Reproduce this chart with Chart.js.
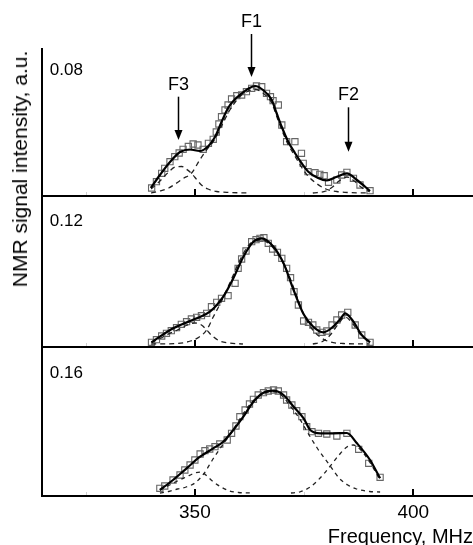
<!DOCTYPE html>
<html><head><meta charset="utf-8">
<script src="https://cdn.jsdelivr.net/npm/chart.js@4.4.1/dist/chart.umd.min.js"></script>
<style>
html,body{margin:0;padding:0;background:#fff;overflow:hidden;width:473px;height:545px;}
#wrap{position:relative;width:473px;height:545px;overflow:hidden;background:#fff;}
canvas{position:absolute;left:0;}
#ylab{position:absolute;left:20px;top:169px;transform:translate(-50%,-50%) rotate(-90deg);white-space:nowrap;font:21px "Liberation Sans",Arial,sans-serif;color:#000;}
</style></head><body>
<div id="wrap">
<canvas id="c1" width="473" height="200" style="top:0"></canvas>
<canvas id="c2" width="473" height="160" style="top:190px"></canvas>
<canvas id="c3" width="473" height="215" style="top:340px"></canvas>
<div id="ylab">NMR signal intensity, a.u.</div>
</div>
<script>
// ---------- axis / label data ----------
const xMin = 315, xMax = 413.67;
const xTickValues = [350, 400];
const xMinorTickValues = [325, 375];
const xTitle = 'Frequency, MHz';
const panelLabels = ['0.08', '0.12', '0.16'];
const peakNames = ['F1', 'F2', 'F3'];
const peakFreq = [362.75, 384.96, 346.2];

// ---------- panel 1 (0.08) ----------
const p1Squares = [[340.1,8],[341.2,14.3],[342.4,22.7],[343.1,27.7],[344.3,34.3],[345.4,39.3],[346.4,43],[347.3,46.7],[348.5,49.5],[349.6,52],[350.7,51],[351.9,46.7],[353.1,52.7],[354.2,56.7],[354.9,64],[355.5,72],[356.1,79.3],[356.9,86],[357.6,91],[358.4,97],[359.6,100.3],[360.7,101],[361.8,104.3],[363.0,107.7],[364.1,110],[365.3,109.3],[366.4,102.7],[367.3,99.3],[367.9,95.3],[369.1,91],[369.9,71],[371.0,54.3],[372.9,54.3],[374.4,42.7],[374.8,32.7],[375.9,24.3],[377.5,23.3],[378.6,21.7],[379.6,20.3],[380.6,13.7],[382.5,16],[383.6,21],[384.8,23.7],[386.3,17.7],[387.8,11],[390.1,5.3]];
const p1Fit = [[339.9,8],[342,21],[344.3,34],[346.6,44],[348.9,46.5],[351.1,45],[353,49.5],[354.6,59],[356.1,74],[357.6,88],[359,96],[360.7,102.5],[362.3,107.5],[363.8,110],[365.6,106],[367.6,96],[368.7,83],[369.9,69],[371.4,54],[372.9,43],[374.4,33],[375.9,24.5],[378.2,18],[380.2,15.5],[382.5,19.3],[384.8,22.7],[387.1,16],[390.1,5]];
const p1CompF1 = [[340,3],[342,5],[344,8],[345.5,12],[347.3,17.5],[349.2,22.7],[351.1,36],[352.5,45],[354.6,57],[356.1,70],[358,86],[360,98],[361.8,104],[363.8,106.5],[365.6,103],[367.6,93],[368.7,80],[369.9,66],[371.4,51],[372.9,40],[374.4,29],[375.9,20],[378,12],[380,7],[382.5,4.5],[385,3.5],[390,3]];
const p1CompF2 = [[377,3],[380,5],[381.5,9],[383,15],[384.8,19],[386.5,15],[388,9],[390,4]];
const p1CompF3 = [[340,7],[342,15],[344,24],[345.5,29],[347,29.5],[348,27],[349.2,22.7],[350.5,16],[351.5,11],[353,7],[355,4.5],[358,3.5],[362,3]];

// ---------- panel 2 (0.12) ----------
const p2Squares = [[340.07,4.7],[341.2,7.3],[342.4,11],[343.5,13.7],[344.6,16.3],[345.8,19.3],[346.9,22.7],[348.1,25.3],[349.2,28],[350.4,29.7],[351.5,31.3],[352.7,33.7],[353.8,40.3],[355.0,44.7],[356.1,48.7],[357.6,51.3],[359.2,63.7],[359.9,78.7],[360.7,88],[361.7,96],[363.0,105.3],[364.0,107.3],[364.9,108.7],[365.8,109.3],[366.8,103.7],[367.8,98],[368.9,94.7],[369.9,88.7],[371.0,78.7],[371.9,69.3],[372.7,55.3],[373.7,42],[374.9,26],[376.0,24.7],[377.0,22],[377.9,17],[379.1,14.7],[380.2,16],[381.4,22],[382.5,27],[383.6,32],[385.0,34.7],[386.7,22],[388.2,12],[390.1,4.7]];
const p2Fit = [[340.07,4.7],[345.04,18.7],[350.0,28],[353.44,35.3],[356.5,50.3],[358.8,68.7],[361.1,90.3],[363.4,105.3],[365.3,108.7],[368.0,100.3],[370.3,83.7],[372.6,57],[374.9,32.7],[377.1,20.3],[379.4,14.7],[381.4,19.3],[383.3,28],[384.4,33.7],[386.3,25.3],[388.2,12],[390.1,4.7]];
const p2CompF1 = [[340,3],[346,3.5],[349,6],[351,10],[352.7,17],[354.2,30],[356,45],[358,64],[360,84],[362,100],[363.5,106],[365.3,107],[367,103],[369,93],[371,77],[373,55],[375,32],[377,17],[379,9],[381,5],[384,3.5],[390,3]];
const p2CompF2 = [[377,3],[379,5],[381,12],[383,24],[384.4,30],[386,24],[388,12],[390,4]];
const p2CompF3 = [[340,4.7],[342,8.5],[344,13],[346,17],[348,21.5],[350,24],[351.5,22],[352.7,17],[354,11],[355.7,6],[358,4],[361,3]];

// ---------- panel 3 (0.16) ----------
const p3Squares = [[341.98,7.7],[343.1,10],[345.0,16],[346.6,21],[347.7,26],[348.9,31],[350.0,36],[351.2,42],[352.3,45.3],[353.4,47],[354.6,49.3],[355.7,52],[357.4,56],[358.4,62.7],[359.4,70],[360.3,79.3],[361.5,86],[362.5,92],[363.4,96.7],[364.5,101],[365.7,103.3],[366.8,105],[368.0,106],[369.1,105],[370.3,101],[371.0,96],[372.2,91],[373.3,85.3],[374.5,79.3],[375.6,69.3],[376.8,64.3],[378.3,62.7],[380.2,62],[382.5,60],[384.8,62.7],[387.5,46.7],[389.8,32.7],[392.4,18.7]];
const p3Fit = [[341.98,6],[345.0,16],[348.1,27.7],[351.2,39.3],[354.2,47.7],[356.5,54.3],[358.8,66],[361.1,79.3],[363.4,94.3],[365.7,103.3],[368.0,105.3],[370.3,101],[372.6,89.3],[374.9,77.7],[376.4,66],[378.7,62.7],[381.7,62.7],[384.8,63],[387.1,52.7],[390.1,36],[392.4,17.7]];
const p3CompF1 = [[342,3],[344,4.5],[346,7],[348,9],[350,13],[352,22],[354,36],[356,49],[358,61],[360,75],[362,88],[364,98],[366,103],[368,104.5],[370,100],[372,89],[374,77],[376,62],[378,48],[381,30],[383,18],[385,11],[387,7],[390,4.5],[392.4,4]];
const p3CompF2 = [[372,3],[374,4],[376.4,9],[378,15],[379.5,22],[381,30],[383,41],[384.8,49],[386.3,51],[388,46],[390,34],[392.4,16]];
const p3CompF3 = [[342,6],[344,10.5],[346,15],[348,19],[350,23],[351.5,24],[352.5,21],[354,15],[356,9],[358,5],[360,3.5],[363,3]];

// ---------- styling / drawing ----------
const FONT = '"Liberation Sans", Arial, Helvetica, sans-serif';
const panelLabelX = 316.8;
const peakLabelY = [174, 101, 110.7];
const peakArrowTop = [162, 88.7, 99.3];
const peakArrowTip = [119, 44.3, 56];

const decoPlugin = {
  id: 'deco',
  afterDraw(chart, args, opts) {
    const ctx = chart.ctx, a = chart.chartArea, x = chart.scales.x, y = chart.scales.y;
    ctx.save();
    ctx.strokeStyle = '#d0d0d0'; ctx.lineWidth = 1;
    xMinorTickValues.forEach(v => {
      const px = Math.round(x.getPixelForValue(v)) + 0.5;
      ctx.beginPath(); ctx.moveTo(px, a.bottom); ctx.lineTo(px, a.bottom - 4); ctx.stroke();
    });
    ctx.strokeStyle = '#000'; ctx.lineWidth = 2;
    ctx.beginPath();
    ctx.moveTo(a.left, a.top); ctx.lineTo(a.left, a.bottom + 1);
    ctx.moveTo(a.left - 1, a.bottom); ctx.lineTo(a.right, a.bottom);
    ctx.stroke();
    xTickValues.forEach(v => {
      const px = Math.round(x.getPixelForValue(v));
      ctx.beginPath(); ctx.moveTo(px, a.bottom); ctx.lineTo(px, a.bottom - 7); ctx.stroke();
    });
    ctx.fillStyle = '#000';
    ctx.font = '17px ' + FONT;
    ctx.textAlign = 'left'; ctx.textBaseline = 'middle';
    ctx.fillText(opts.label, x.getPixelForValue(panelLabelX), y.getPixelForValue(opts.labelY));
    if (opts.peaks) {
      ctx.font = '18px ' + FONT;
      ctx.textAlign = 'center';
      ctx.lineWidth = 1.5;
      peakNames.forEach((name, i) => {
        const px = Math.round(x.getPixelForValue(peakFreq[i])) + 0.5;
        ctx.fillText(name, px, y.getPixelForValue(peakLabelY[i]));
        const top = y.getPixelForValue(peakArrowTop[i]);
        const tip = y.getPixelForValue(peakArrowTip[i]);
        ctx.beginPath(); ctx.moveTo(px, top); ctx.lineTo(px, tip - 8); ctx.stroke();
        ctx.beginPath(); ctx.moveTo(px, tip); ctx.lineTo(px - 4, tip - 10); ctx.lineTo(px + 4, tip - 10); ctx.closePath(); ctx.fill();
      });
    }
    ctx.restore();
  }
};

function pts(arr) { return arr.map(p => ({x: p[0], y: p[1]})); }

function panelDatasets(squares, fit, comps, dash) {
  const ds = [{
    data: pts(fit), showLine: true, borderColor: '#000', borderWidth: 2.2,
    pointRadius: 0, cubicInterpolationMode: 'monotone', fill: false
  }];
  comps.forEach(c => ds.push({
    data: pts(c), showLine: true, borderColor: '#222', borderWidth: 1.3, borderDash: dash,
    pointRadius: 0, cubicInterpolationMode: 'monotone', fill: false
  }));
  ds.push({
    data: pts(squares), showLine: false, pointStyle: 'rect', pointRadius: 4.4,
    pointBorderColor: '#666', pointBackgroundColor: 'rgba(255,255,255,0)', pointBorderWidth: 1.1
  });
  return ds;
}

function makeChart(id, datasets, yMax, padding, deco, bottomAxis) {
  const xScale = {type: 'linear', min: xMin, max: xMax, display: false};
  if (bottomAxis) {
    Object.assign(xScale, {
      display: true,
      afterBuildTicks: s => { s.ticks = xTickValues.map(v => ({value: v})); },
      afterFit: s => { s.height = 59; },
      grid: {display: false, drawTicks: false},
      border: {display: false},
      ticks: {padding: 5, color: '#000', font: {size: 19, family: FONT}, autoSkip: false, maxRotation: 0, callback: v => String(v)},
      title: {display: true, text: xTitle, align: 'end', color: '#000', font: {size: 20, family: FONT}, padding: {top: 0, bottom: 6}}
    });
  }
  return new Chart(document.getElementById(id), {
    type: 'scatter',
    data: {datasets},
    options: {
      responsive: false, animation: false, devicePixelRatio: 1, events: [],
      layout: {padding, autoPadding: false},
      plugins: {legend: {display: false}, tooltip: {enabled: false}, deco},
      scales: {x: xScale, y: {type: 'linear', min: 0, max: yMax, display: false}}
    },
    plugins: [decoPlugin]
  });
}

makeChart('c1', panelDatasets(p1Squares, p1Fit, [p1CompF1, p1CompF2, p1CompF3], [5, 4]), 148,
  {top: 48, bottom: 4, left: 42, right: 0}, {label: panelLabels[0], labelY: 125.2, peaks: true}, false);
makeChart('c2', panelDatasets(p2Squares, p2Fit, [p2CompF1, p2CompF2, p2CompF3], [5, 4]), 151,
  {top: 6, bottom: 3, left: 42, right: 0}, {label: panelLabels[1], labelY: 125.3, peaks: false}, false);
makeChart('c3', panelDatasets(p3Squares, p3Fit, [p3CompF1, p3CompF2, p3CompF3], [4, 4]), 149,
  {top: 7, bottom: 0, left: 42, right: 0}, {label: panelLabels[2], labelY: 123, peaks: false}, true);
</script>
</body></html>
